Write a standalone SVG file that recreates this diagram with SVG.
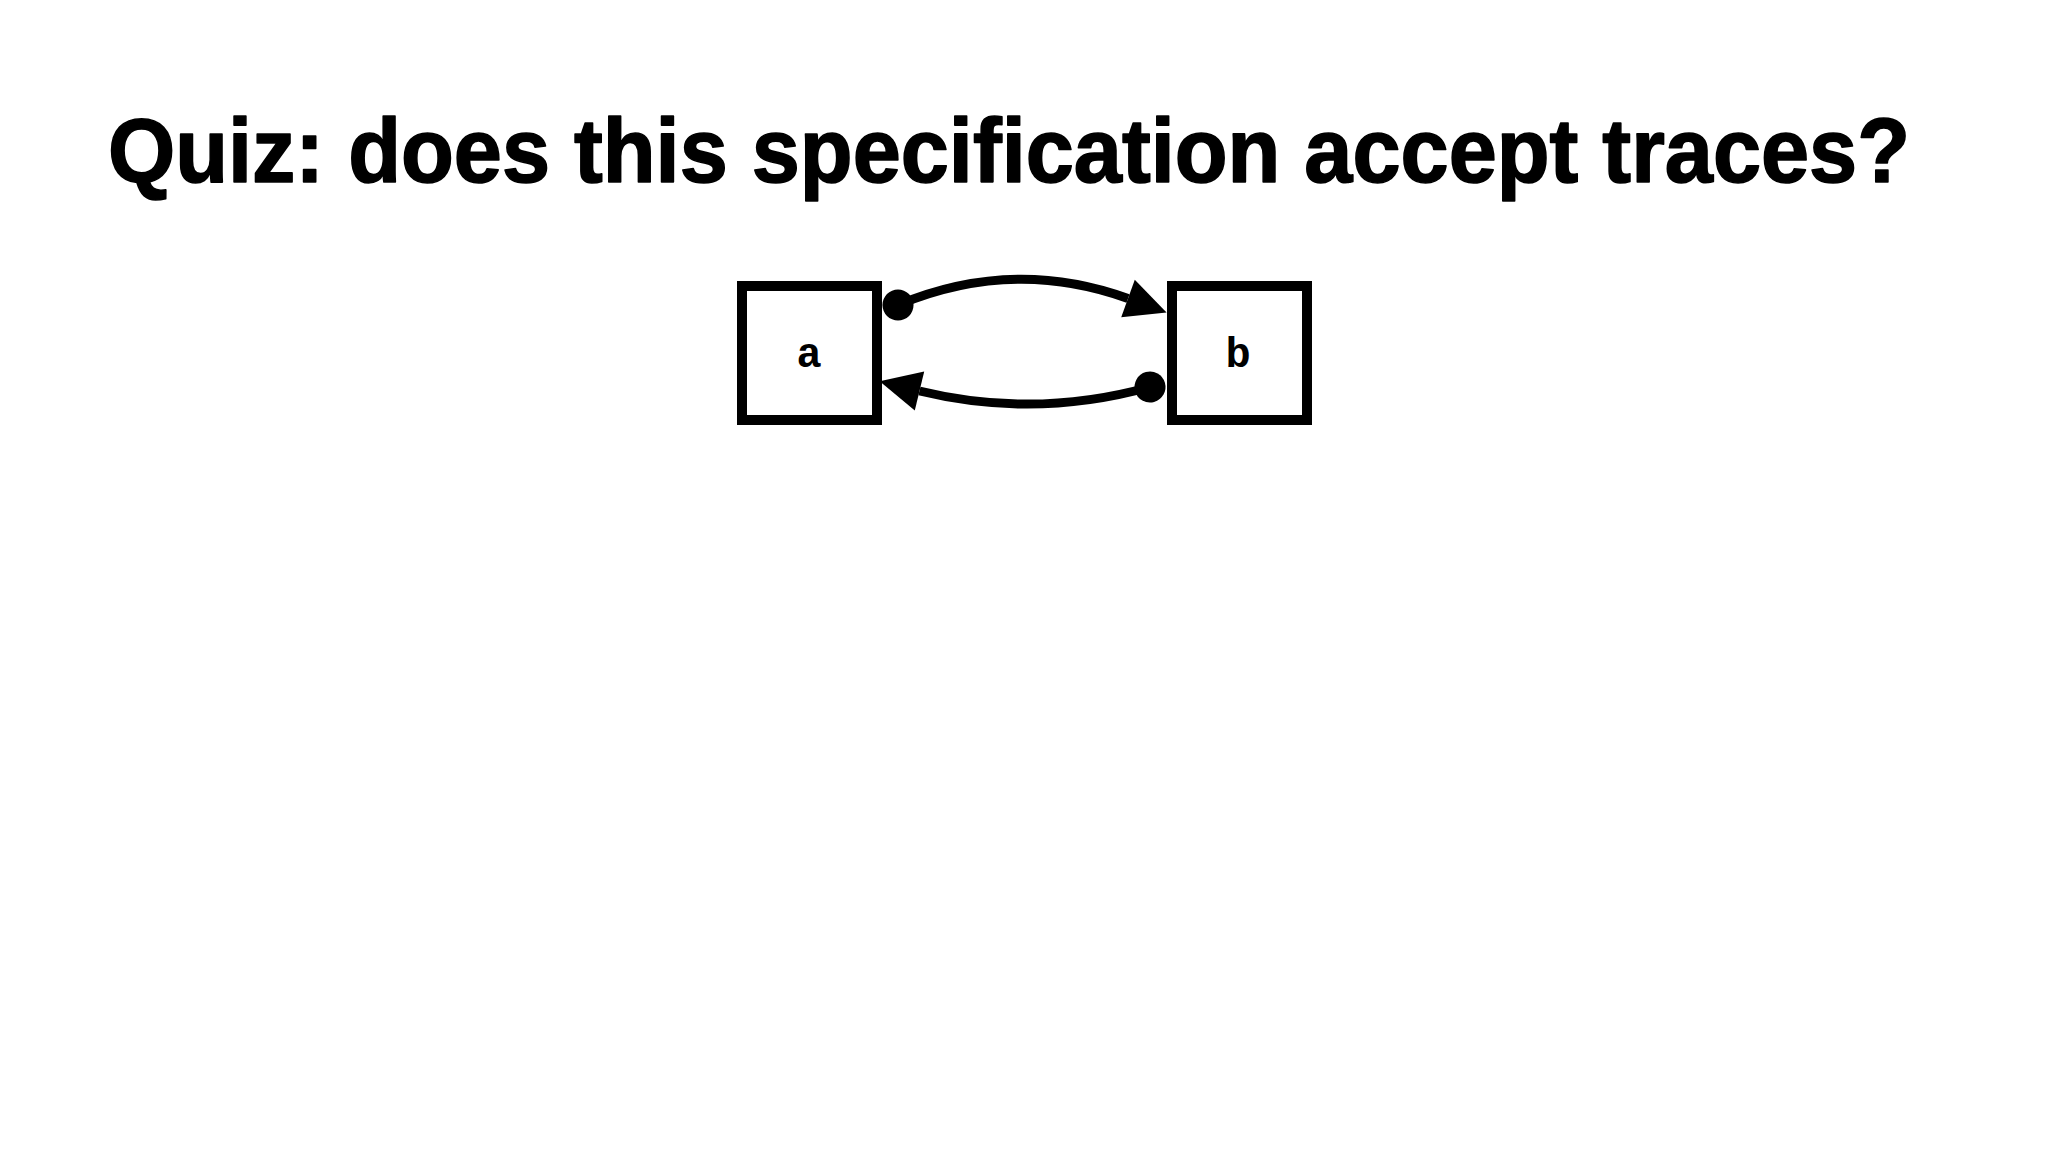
<svg xmlns="http://www.w3.org/2000/svg" width="2048" height="1152" viewBox="0 0 2048 1152">
  <style>
    .title { font-family: "Liberation Sans", Arial, Helvetica, sans-serif; font-weight: bold; font-size: 90px; fill: #000; stroke: #000; stroke-width: 1.6; stroke-linejoin: round; }
    .box { fill: #fff; stroke: #000; stroke-width: 10; }
    .label { font-family: "Liberation Mono", "Courier New", monospace; font-weight: bold; font-size: 42px; fill: #000; text-anchor: middle; }
    .edge { fill: none; stroke: #000; stroke-width: 9; }
  </style>
  <defs>
    <marker id="arrow" markerUnits="userSpaceOnUse" markerWidth="44" markerHeight="44" viewBox="0 -22 42 44" refX="0" refY="0" orient="auto">
      <path d="M0,-20 L41,0 L0,20 Z" fill="#000"/>
    </marker>
    <marker id="dot" markerUnits="userSpaceOnUse" markerWidth="36" markerHeight="36" viewBox="-18 -18 36 36" refX="0" refY="0" orient="auto">
      <circle cx="0" cy="0" r="15.5" fill="#000"/>
    </marker>
  </defs>
  <rect width="2048" height="1152" fill="#fff"/>
  <text id="title" class="title" x="108" y="182" textLength="1802" lengthAdjust="spacingAndGlyphs">Quiz: does this specification accept traces?</text>
  <g id="node-a">
    <rect class="box" x="742" y="286" width="135" height="134"/>
    <text class="label" x="809" y="367">a</text>
  </g>
  <g id="node-b">
    <rect class="box" x="1172" y="286" width="135" height="134"/>
    <text class="label" x="1238" y="367">b</text>
  </g>
  <g id="connectors">
    <path class="edge" d="M898,305 Q1013,257 1128,298.5" marker-start="url(#dot)" marker-end="url(#arrow)"/>
    <path class="edge" d="M1150,387 Q1035,419 919.5,391" marker-start="url(#dot)" marker-end="url(#arrow)"/>
  </g>
</svg>
